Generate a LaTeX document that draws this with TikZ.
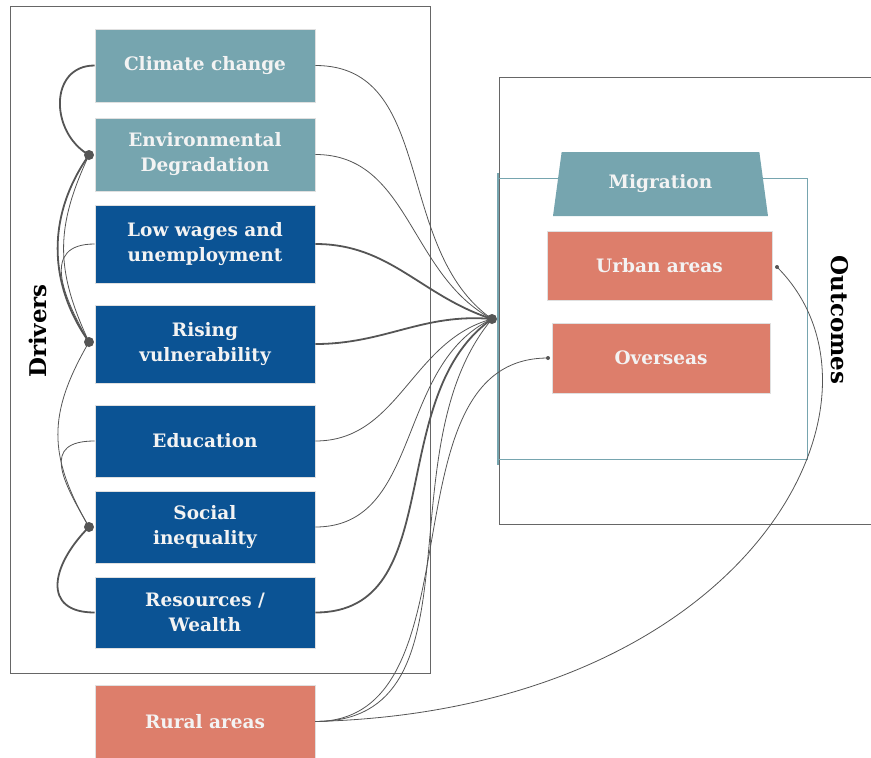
\documentclass[tikz,border=0pt]{standalone}
\usepackage{fontspec}
\setmainfont{DejaVu Serif}
\usetikzlibrary{shapes.geometric,positioning}
\definecolor{tealgray}{HTML}{76A5AF}
\definecolor{deepblue}{HTML}{0B5394}
\definecolor{salmon}{HTML}{DD7E6B}
\definecolor{linkgray}{HTML}{555555}
\definecolor{framegray}{HTML}{666666}
\definecolor{boxtext}{HTML}{F3F3F3}
\newcommand{\boxfont}{\fontsize{18.5}{25}\selectfont\bfseries}

\begin{document}
\begin{tikzpicture}[x=1pt,y=-1pt,
    driver/.style={rectangle,draw=black!12,line width=0.8pt,text=boxtext,font=\boxfont,align=center,minimum width=220pt,minimum height=73pt,inner sep=0pt},
    climbox/.style={driver,fill=tealgray},
    econbox/.style={driver,fill=deepblue},
    placebox/.style={driver,fill=salmon},
    frame/.style={draw=framegray,line width=0.9pt},
    link/.style={draw=linkgray,line width=0.8pt},
    heavylink/.style={draw=linkgray,line width=1.8pt},
    joint/.style={circle,fill=linkgray,inner sep=0pt,minimum size=10pt},
    tip/.style={circle,fill=linkgray,inner sep=0pt,minimum size=4pt},
    sidelabel/.style={font=\fontsize{23}{23}\selectfont\bfseries,text=black}
]
\useasboundingbox (0,0) rectangle (871,758);

% frames
\draw[frame] (10,6) rectangle (430,673);
\draw[frame] (871,77) -- (499,77) -- (499,524) -- (871,524);
\draw[draw=tealgray,line width=0.9pt] (498,178) rectangle (807,459);
\draw[draw=tealgray,line width=1.2pt] (498,173) -- (498,465);

% drivers
\node[climbox] (climate) at (205,65.5) {Climate change};
\node[climbox] (envdeg) at (205,154.5) {Environmental\\Degradation};
\node[econbox,minimum height=78pt] (wages) at (205,244) {Low wages and\\unemployment};
\node[econbox,minimum height=78pt] (vuln) at (205,344) {Rising\\vulnerability};
\node[econbox,minimum height=72pt] (educ) at (205,441) {Education};
\node[econbox,minimum height=72pt] (ineq) at (205,527) {Social\\inequality};
\node[econbox,minimum height=71pt] (wealth) at (205,612.5) {Resources /\\Wealth};
\node[placebox] (rural) at (205,721.5) {Rural areas};

% outcomes
\node[trapezium,trapezium left angle=76,trapezium right angle=76,trapezium stretches=true,fill=tealgray,text=boxtext,font=\boxfont,minimum width=215pt,minimum height=64pt,inner sep=0pt] (migr) at (660.5,184) {Migration};
\node[placebox,minimum width=225pt,minimum height=69pt] (urban) at (659.5,265.5) {Urban areas};
\node[placebox,minimum width=218pt,minimum height=70pt] (overseas) at (661,358) {Overseas};

\node[sidelabel,rotate=90] (drv) at (38,331) {Drivers};
\node[sidelabel,rotate=-90] (outc) at (840,320) {Outcomes};

% joints
\node[joint] (hub) at (492,319) {};
\node[joint] (envjoint) at (89,155) {};
\node[joint] (vulnjoint) at (89,342) {};
\node[joint] (ineqjoint) at (89,527) {};
\node[tip] (urbantip) at (777,267) {};
\node[tip] (overtip) at (548,358) {};

% drivers into migration
\draw[link] (climate.east) to[out=0,in=145] (hub.center);
\draw[link] (envdeg.east) to[out=0,in=152] (hub.center);
\draw[heavylink] (wages.east) to[out=0,in=162] (hub.center);
\draw[heavylink] (vuln.east) to[out=0,in=175] (hub.center);
\draw[link] (educ.east) to[out=0,in=195] (hub.center);
\draw[link] (ineq.east) to[out=0,in=205] (hub.center);
\draw[heavylink] (wealth.east) to[out=0,in=215] (hub.center);
\draw[link] (rural.east) to[out=0,in=230] (hub.center);

% rural areas to destinations
\draw[link] (rural.east) to[out=0,in=180] (overtip.center);
\draw[link] (rural.east) .. controls (750,710) and (910,400) .. (urbantip.center);

% links between drivers
\draw[heavylink] (climate.west) to[out=180,in=150,looseness=1.3] (envjoint.center);
\draw[heavylink] (envjoint.center) to[out=235,in=125] (vulnjoint.center);
\draw[link] (envjoint.center) to[out=245,in=115,looseness=1.1] (vulnjoint.center);
\draw[link] (wages.west) to[out=180,in=120,looseness=1.4] (vulnjoint.center);
\draw[link] (vulnjoint.center) to[out=240,in=120,looseness=1.15] (ineqjoint.center);
\draw[link] (educ.west) to[out=180,in=120,looseness=1.6] (ineqjoint.center);
\draw[heavylink] (ineqjoint.center) to[out=225,in=180,looseness=1.6] (wealth.west);

\end{tikzpicture}
\end{document}
